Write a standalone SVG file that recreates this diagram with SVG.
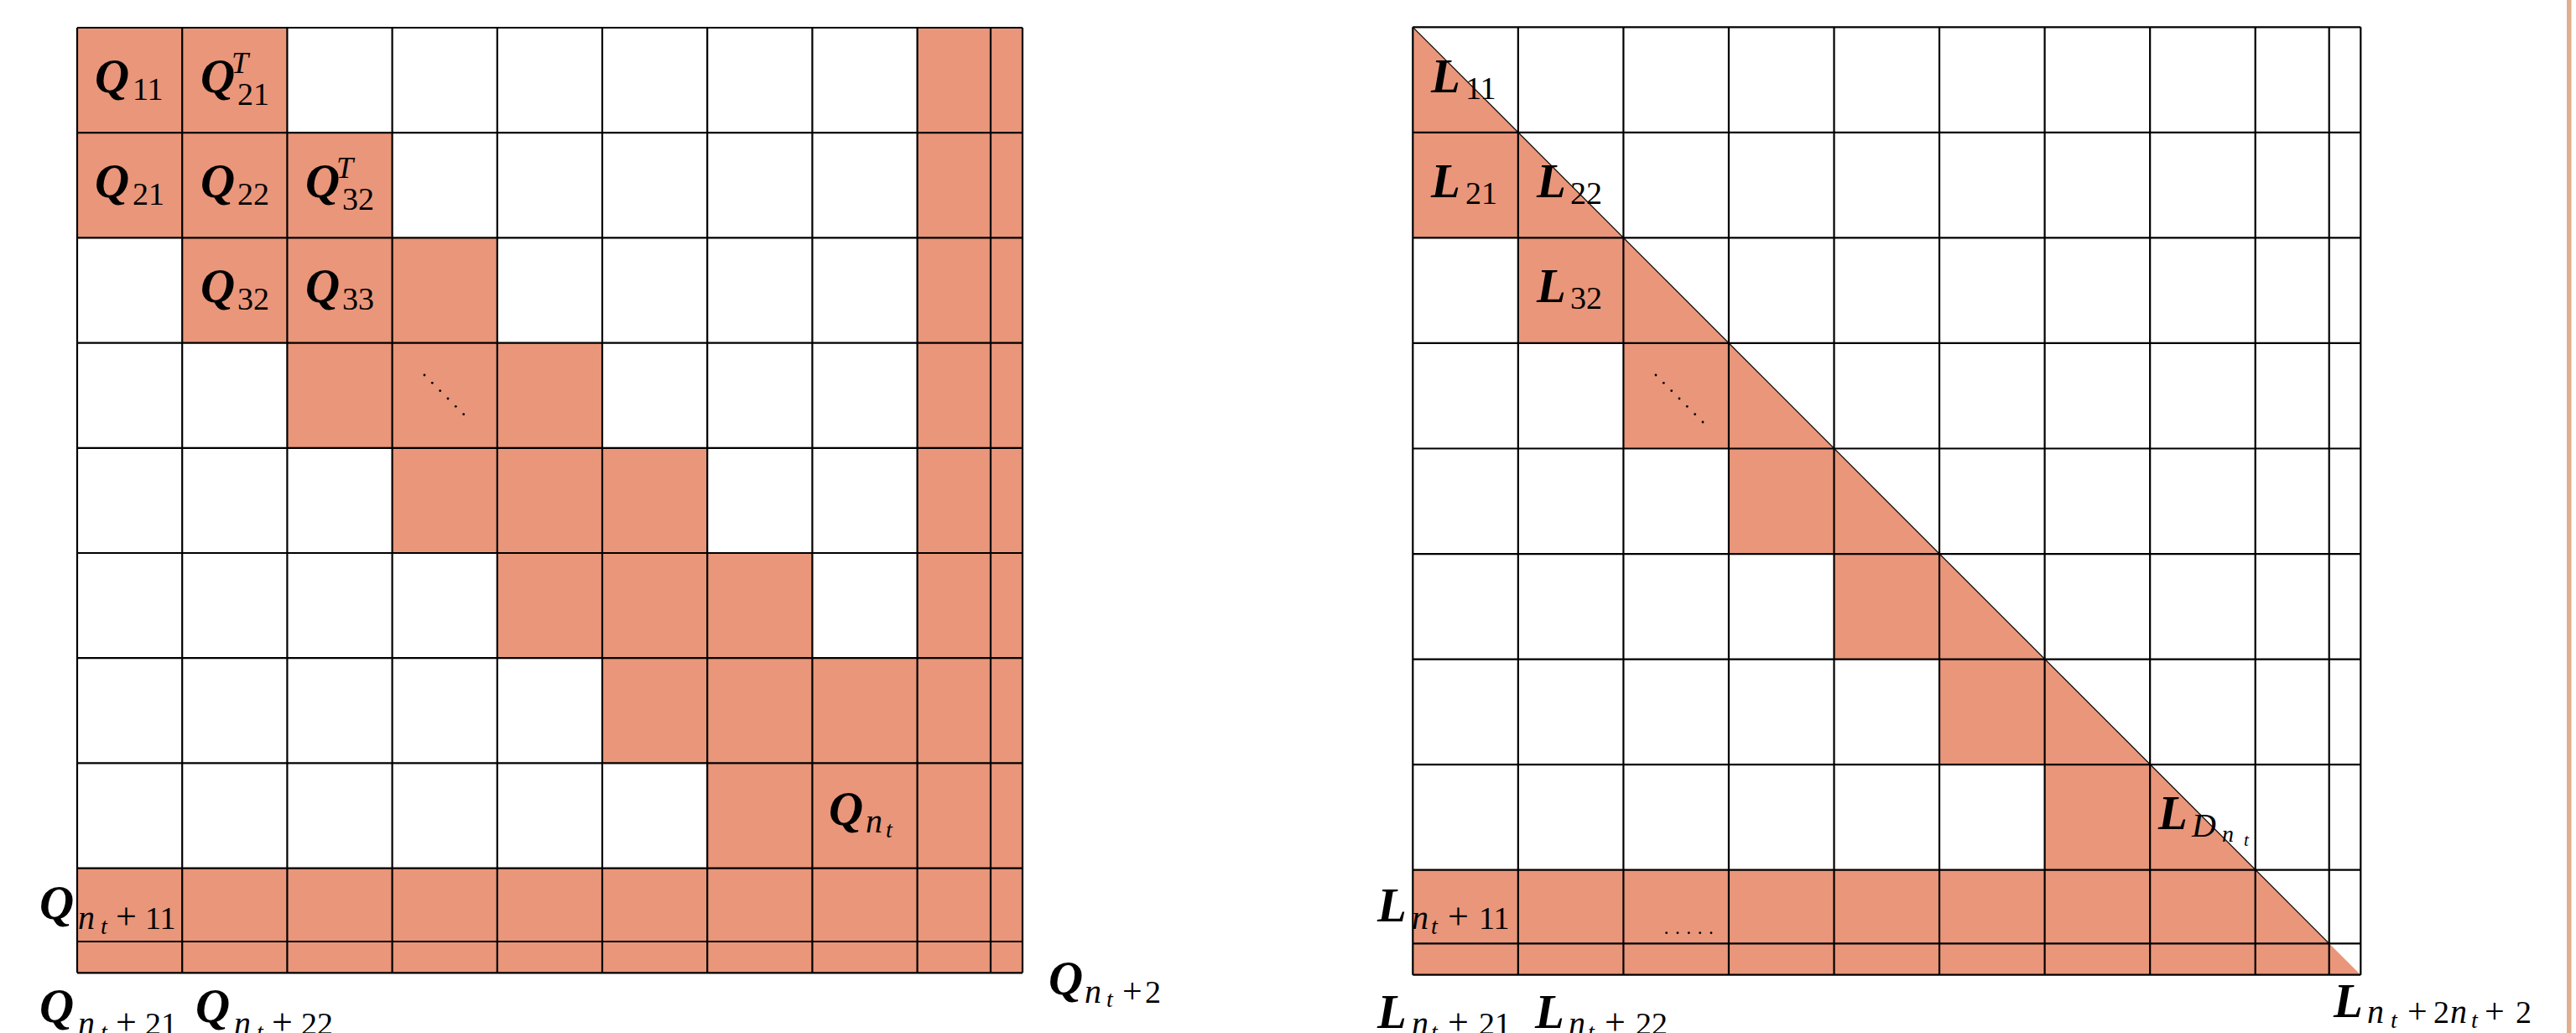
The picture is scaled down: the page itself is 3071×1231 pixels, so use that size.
<svg xmlns="http://www.w3.org/2000/svg" width="3071" height="1231" viewBox="0 0 3071 1231">
<style>
.f{fill:#E9967A}
.g{fill:none;stroke:#000;stroke-width:2.2}
.d{stroke:#000;stroke-width:1.2}
.dot{fill:#000}
text{font-family:"Liberation Serif",serif;fill:#000}
.v{font-weight:bold;font-style:italic;font-size:57px}
.s{font-size:38px}
.si{font-style:italic;font-size:40px}
.ss{font-style:italic;font-size:28px}
.sss{font-style:italic;font-size:21px}
</style>
<rect width="3071" height="1231" fill="#fff"/>
<rect x="3060" y="0" width="5.5" height="1231" fill="#E1AE8F"/>

<g id="matrix-Q">
  <g id="Q-fill">
    <rect class="f" x="1093.6" y="33" width="125.4" height="1126.3"/>
    <rect class="f" x="92" y="1034.6" width="1127" height="124.7"/>
    <rect class="f" x="92" y="33" width="250.4" height="125.2"/>
    <rect class="f" x="92" y="158.2" width="375.6" height="125.2"/>
    <rect class="f" x="217.2" y="283.4" width="375.6" height="125.2"/>
    <rect class="f" x="342.4" y="408.6" width="375.6" height="125.2"/>
    <rect class="f" x="467.6" y="533.8" width="375.6" height="125.2"/>
    <rect class="f" x="592.8" y="659" width="375.6" height="125.2"/>
    <rect class="f" x="718" y="784.2" width="375.6" height="125.2"/>
    <rect class="f" x="843.2" y="909.4" width="250.4" height="125.2"/>
  </g>
  <path id="Q-grid" class="g" d="M92 33V1159.3M217.2 33V1159.3M342.4 33V1159.3M467.6 33V1159.3M592.8 33V1159.3M718 33V1159.3M843.2 33V1159.3M968.4 33V1159.3M1093.6 33V1159.3M1181 33V1159.3M1219 33V1159.3M92 33H1219M92 158.2H1219M92 283.4H1219M92 408.6H1219M92 533.8H1219M92 659H1219M92 784.2H1219M92 909.4H1219M92 1034.6H1219M92 1122H1219M92 1159.3H1219"/>
  <g id="Q-dots">
    <circle class="dot" cx="506" cy="447" r="1.4"/>
    <circle class="dot" cx="515.3" cy="456.3" r="1.4"/>
    <circle class="dot" cx="524.7" cy="465.7" r="1.4"/>
    <circle class="dot" cx="534" cy="475" r="1.4"/>
    <circle class="dot" cx="543.3" cy="484.3" r="1.4"/>
    <circle class="dot" cx="552.7" cy="493.7" r="1.4"/>
  </g>
  <g id="Q-labels">
    <text><tspan class="v" x="113" y="110">Q</tspan><tspan class="s" x="158" y="119">11</tspan></text>
    <text><tspan class="v" x="239" y="110">Q</tspan><tspan class="si" x="276" y="87" style="font-size:36px">T</tspan><tspan class="s" x="283" y="125">21</tspan></text>
    <text><tspan class="v" x="113" y="235">Q</tspan><tspan class="s" x="158" y="244">21</tspan></text>
    <text><tspan class="v" x="239" y="235">Q</tspan><tspan class="s" x="283" y="244">22</tspan></text>
    <text><tspan class="v" x="364" y="235">Q</tspan><tspan class="si" x="401" y="212" style="font-size:36px">T</tspan><tspan class="s" x="408" y="250">32</tspan></text>
    <text><tspan class="v" x="239" y="360">Q</tspan><tspan class="s" x="283" y="369">32</tspan></text>
    <text><tspan class="v" x="364" y="360">Q</tspan><tspan class="s" x="408" y="369">33</tspan></text>
    <text><tspan class="v" x="988" y="983">Q</tspan><tspan class="si" x="1032" y="992">n</tspan><tspan class="ss" x="1056" y="998">t</tspan></text>
    <text><tspan class="v" x="47" y="1095">Q</tspan><tspan class="si" x="93" y="1107">n</tspan><tspan class="ss" x="120" y="1113">t</tspan><tspan class="s" x="138" y="1107" style="font-size:44px">+</tspan><tspan class="s" x="173" y="1107">11</tspan></text>
    <text><tspan class="v" x="47" y="1218">Q</tspan><tspan class="si" x="93" y="1233">n</tspan><tspan class="ss" x="120" y="1239">t</tspan><tspan class="s" x="138" y="1233" style="font-size:44px">+</tspan><tspan class="s" x="173" y="1233">21</tspan></text>
    <text><tspan class="v" x="233" y="1218">Q</tspan><tspan class="si" x="279" y="1233">n</tspan><tspan class="ss" x="306" y="1239">t</tspan><tspan class="s" x="324" y="1233" style="font-size:44px">+</tspan><tspan class="s" x="359" y="1233">22</tspan></text>
    <text><tspan class="v" x="1250" y="1185">Q</tspan><tspan class="si" x="1293" y="1195">n</tspan><tspan class="ss" x="1319" y="1200">t</tspan><tspan class="s" x="1338" y="1195" style="font-size:42px">+</tspan><tspan class="s" x="1365" y="1195">2</tspan></text>
  </g>
</g>

<g id="matrix-L">
  <polygon id="L-fill" class="f" points="1684.3,32.3 2814.3,1161.7 1684.3,1161.7 1684.3,1036.7 2437.6,1036.7 2437.6,911.15 2312.05,911.15 2312.05,785.6 2186.5,785.6 2186.5,660.05 2060.95,660.05 2060.95,534.5 1935.4,534.5 1935.4,408.95 1809.85,408.95 1809.85,283.4 1684.3,283.4"/>
  <path id="L-grid" class="g" d="M1684.3 32.3V1161.7M1809.85 32.3V1161.7M1935.4 32.3V1161.7M2060.95 32.3V1161.7M2186.5 32.3V1161.7M2312.05 32.3V1161.7M2437.6 32.3V1161.7M2563.15 32.3V1161.7M2688.7 32.3V1161.7M2776.7 32.3V1161.7M2814.3 32.3V1161.7M1684.3 32.3H2814.3M1684.3 157.85H2814.3M1684.3 283.4H2814.3M1684.3 408.95H2814.3M1684.3 534.5H2814.3M1684.3 660.05H2814.3M1684.3 785.6H2814.3M1684.3 911.15H2814.3M1684.3 1036.7H2814.3M1684.3 1124.3H2814.3M1684.3 1161.7H2814.3"/>
  <line id="L-diagonal" class="d" x1="1684.3" y1="32.3" x2="2776.7" y2="1124.3"/>
  <g id="L-dots">
    <circle class="dot" cx="1974" cy="447" r="1.4"/>
    <circle class="dot" cx="1983.3" cy="456.3" r="1.4"/>
    <circle class="dot" cx="1992.7" cy="465.7" r="1.4"/>
    <circle class="dot" cx="2002" cy="475" r="1.4"/>
    <circle class="dot" cx="2011.3" cy="484.3" r="1.4"/>
    <circle class="dot" cx="2020.7" cy="493.7" r="1.4"/>
    <circle class="dot" cx="2030" cy="503" r="1.4"/>
    <circle class="dot" cx="1986.7" cy="1111.7" r="1.4"/>
    <circle class="dot" cx="2000" cy="1111.7" r="1.4"/>
    <circle class="dot" cx="2013.3" cy="1111.7" r="1.4"/>
    <circle class="dot" cx="2026.7" cy="1111.7" r="1.4"/>
    <circle class="dot" cx="2040" cy="1111.7" r="1.4"/>
  </g>
  <g id="L-labels">
    <text><tspan class="v" x="1706" y="110">L</tspan><tspan class="s" x="1747" y="118">11</tspan></text>
    <text><tspan class="v" x="1706" y="235">L</tspan><tspan class="s" x="1747" y="243">21</tspan></text>
    <text><tspan class="v" x="1832" y="235">L</tspan><tspan class="s" x="1872" y="243">22</tspan></text>
    <text><tspan class="v" x="1832" y="360">L</tspan><tspan class="s" x="1872" y="368">32</tspan></text>
    <text><tspan class="v" x="2573" y="988">L</tspan><tspan class="si" x="2613" y="997">D</tspan><tspan class="ss" x="2649" y="1003">n</tspan><tspan class="sss" x="2675" y="1008">t</tspan></text>
    <text><tspan class="v" x="1642" y="1098">L</tspan><tspan class="si" x="1683" y="1107">n</tspan><tspan class="ss" x="1706" y="1113">t</tspan><tspan class="s" x="1726" y="1107" style="font-size:44px">+</tspan><tspan class="s" x="1763" y="1107">11</tspan></text>
    <text><tspan class="v" x="1642" y="1225">L</tspan><tspan class="si" x="1683" y="1233">n</tspan><tspan class="ss" x="1706" y="1239">t</tspan><tspan class="s" x="1726" y="1233" style="font-size:44px">+</tspan><tspan class="s" x="1763" y="1233">21</tspan></text>
    <text><tspan class="v" x="1830" y="1225">L</tspan><tspan class="si" x="1870" y="1233">n</tspan><tspan class="ss" x="1893" y="1239">t</tspan><tspan class="s" x="1913" y="1233" style="font-size:44px">+</tspan><tspan class="s" x="1950" y="1233">22</tspan></text>
    <text><tspan class="v" x="2782" y="1212">L</tspan><tspan class="si" x="2822" y="1219">n</tspan><tspan class="ss" x="2850" y="1225">t</tspan><tspan class="s" x="2870" y="1219" style="font-size:42px">+</tspan><tspan class="s" x="2901" y="1219">2</tspan><tspan class="si" x="2921" y="1219">n</tspan><tspan class="ss" x="2946" y="1225">t</tspan><tspan class="s" x="2962" y="1219" style="font-size:42px">+</tspan><tspan class="s" x="2999" y="1219">2</tspan></text>
  </g>
</g>
</svg>
